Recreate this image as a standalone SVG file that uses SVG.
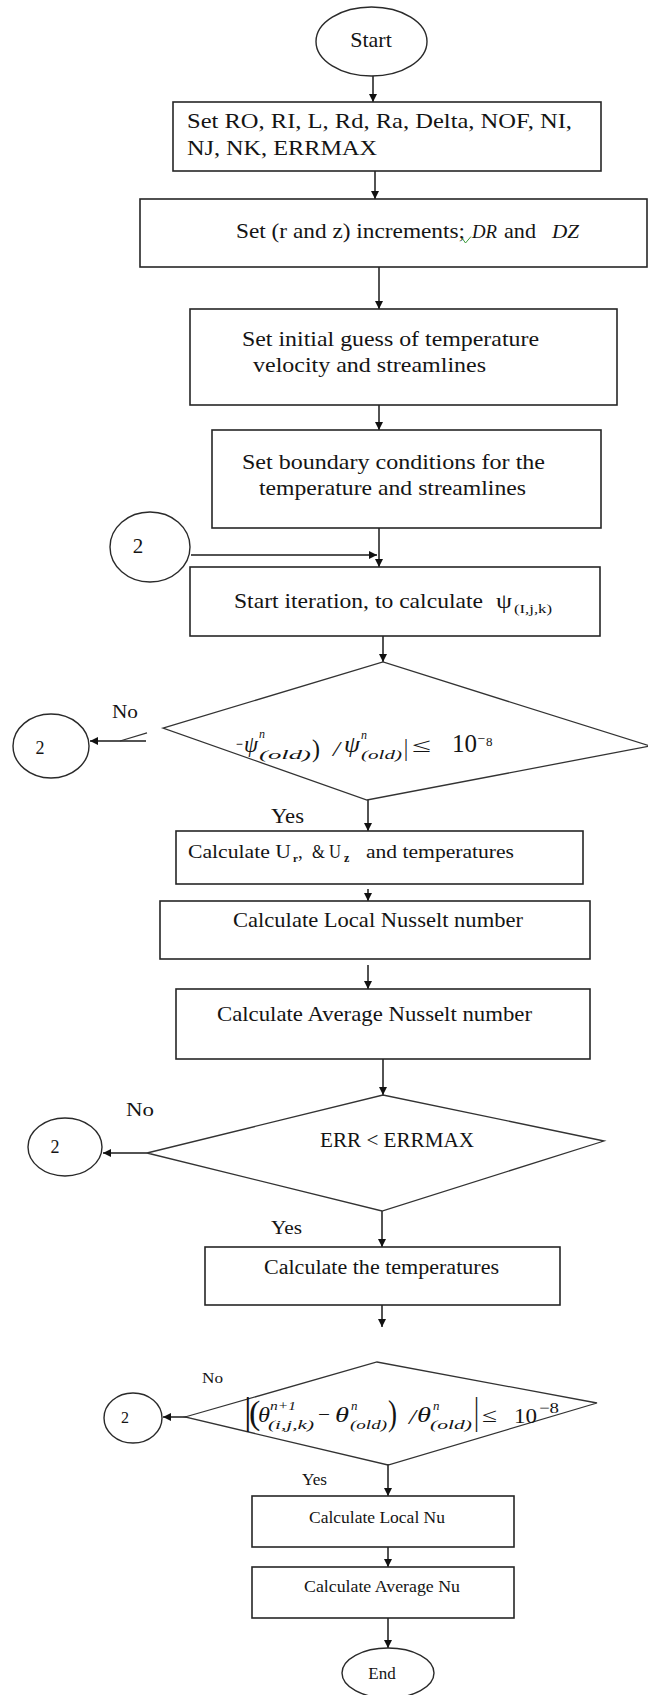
<svg xmlns="http://www.w3.org/2000/svg" width="648" height="1695" viewBox="0 0 648 1695">
<style>
  .box{fill:#fff;stroke:#262626;stroke-width:1.6}
  .term{fill:#fff;stroke:#2a2a2a;stroke-width:1.4}
  .dia{fill:none;stroke:#333;stroke-width:1.3}
  .wire{fill:none;stroke:#1a1a1a;stroke-width:1.5}
  .t{font-family:"Liberation Serif","Times New Roman",serif;fill:#141414}
  .i{font-family:"Liberation Serif","Times New Roman",serif;font-style:italic;fill:#141414}
</style>
<defs>
  <marker id="ah" viewBox="0 0 10 10" refX="10" refY="5" markerWidth="8" markerHeight="8" orient="auto" markerUnits="userSpaceOnUse">
    <path d="M0,0 L10,5 L0,10 z" fill="#111"/>
  </marker>
</defs>
<rect width="648" height="1695" fill="#fff"/>

<!-- connectors -->
<g id="connectors" class="wire" marker-end="url(#ah)">
  <line x1="373" y1="76" x2="373" y2="102"/>
  <line x1="375" y1="171" x2="375" y2="199"/>
  <line x1="379" y1="267" x2="379" y2="309"/>
  <line x1="379" y1="405" x2="379" y2="430"/>
  <line x1="379" y1="528" x2="379" y2="567"/>
  <line x1="191" y1="555" x2="377" y2="555"/>
  <line x1="383" y1="636" x2="383" y2="662"/>
  <line x1="146" y1="741" x2="90" y2="741"/>
  <line x1="368" y1="800" x2="368" y2="831"/>
  <line x1="368" y1="889" x2="368" y2="901"/>
  <line x1="368" y1="965" x2="368" y2="989"/>
  <line x1="383" y1="1059" x2="383" y2="1095"/>
  <line x1="147" y1="1153" x2="103" y2="1153"/>
  <line x1="382" y1="1211" x2="382" y2="1247"/>
  <line x1="382" y1="1305" x2="382" y2="1327"/>
  <line x1="187" y1="1417" x2="163" y2="1417"/>
  <line x1="388" y1="1464" x2="388" y2="1496"/>
  <line x1="388" y1="1547" x2="388" y2="1567"/>
  <line x1="388" y1="1618" x2="388" y2="1648"/>
</g>

<!-- terminals -->
<g id="start">
  <ellipse class="term" cx="371.5" cy="41.5" rx="55.5" ry="34.5"/>
  <text class="t" x="371" y="47" font-size="22" text-anchor="middle">Start</text>
</g>

<g id="set-parameters">
  <rect class="box" x="173" y="102" width="428" height="69"/>
  <text class="t" x="187" y="128" font-size="22" textLength="385" lengthAdjust="spacingAndGlyphs">Set RO, RI, L, Rd, Ra, Delta, NOF, NI,</text>
  <text class="t" x="187" y="155" font-size="22" textLength="190" lengthAdjust="spacingAndGlyphs">NJ, NK, ERRMAX</text>
</g>

<g id="set-increments">
  <rect class="box" x="140" y="199" width="507" height="68"/>
  <text class="t" x="236" y="238" font-size="21" textLength="229" lengthAdjust="spacingAndGlyphs">Set (r and z) increments;</text>
  <text class="i" x="472" y="238" font-size="19" textLength="25" lengthAdjust="spacingAndGlyphs">DR</text>
  <text class="t" x="504" y="238" font-size="21" textLength="32" lengthAdjust="spacingAndGlyphs">and</text>
  <text class="i" x="552" y="238" font-size="19" textLength="27" lengthAdjust="spacingAndGlyphs">DZ</text>
  <path d="M462,238 L465.5,243 L471,236.5" fill="none" stroke="#3a9a3a" stroke-width="1"/>
</g>

<g id="initial-guess">
  <rect class="box" x="190" y="309" width="427" height="96"/>
  <text class="t" x="242" y="346" font-size="21" textLength="297" lengthAdjust="spacingAndGlyphs">Set initial guess of temperature</text>
  <text class="t" x="253" y="372" font-size="21" textLength="233" lengthAdjust="spacingAndGlyphs">velocity and streamlines</text>
</g>

<g id="boundary-conditions">
  <rect class="box" x="212" y="430" width="389" height="98"/>
  <text class="t" x="242" y="469" font-size="21" textLength="303" lengthAdjust="spacingAndGlyphs">Set boundary conditions for the</text>
  <text class="t" x="259" y="495" font-size="21" textLength="267" lengthAdjust="spacingAndGlyphs">temperature and streamlines</text>
</g>

<g id="connector-2-entry">
  <ellipse class="term" cx="150" cy="547" rx="40" ry="35"/>
  <text class="t" x="138" y="553" font-size="21" text-anchor="middle">2</text>
</g>

<g id="start-iteration">
  <rect class="box" x="190" y="567" width="410" height="69"/>
  <text class="t" x="234" y="608" font-size="22" textLength="249" lengthAdjust="spacingAndGlyphs">Start iteration, to calculate</text>
  <text class="t" x="496" y="608" font-size="22" textLength="16" lengthAdjust="spacingAndGlyphs">ψ</text>
  <text class="t" x="514" y="613" font-size="12" textLength="38" lengthAdjust="spacingAndGlyphs">(I,j,k)</text>
</g>

<g id="check-psi">
  <path class="dia" d="M120,741 L147,732.9 M163,728.1 L383,662 L650,746 L367,800 Z"/>
  <text class="t" x="236" y="750" font-size="18" textLength="7" lengthAdjust="spacingAndGlyphs">−</text>
  <text class="i" x="244" y="752" font-size="23" textLength="14" lengthAdjust="spacingAndGlyphs">ψ</text>
  <text class="i" x="259" y="738" font-size="12">n</text>
  <text class="i" x="259" y="759" font-size="12" textLength="52" lengthAdjust="spacingAndGlyphs">(old)</text>
  <text class="t" x="312" y="757" font-size="26" textLength="8" lengthAdjust="spacingAndGlyphs">)</text>
  <text class="i" x="333" y="756" font-size="22" textLength="7" lengthAdjust="spacingAndGlyphs">/</text>
  <text class="i" x="344" y="752" font-size="23" textLength="16" lengthAdjust="spacingAndGlyphs">ψ</text>
  <text class="i" x="361" y="739" font-size="12">n</text>
  <text class="i" x="361" y="759" font-size="12" textLength="41" lengthAdjust="spacingAndGlyphs">(old)</text>
  <text class="t" x="404" y="756" font-size="25" textLength="4" lengthAdjust="spacingAndGlyphs">|</text>
  <text class="t" x="412" y="752" font-size="20" textLength="19" lengthAdjust="spacingAndGlyphs">≤</text>
  <text class="t" y="752" font-size="25"><tspan x="452">10</tspan><tspan x="477.5" dy="-9" font-size="14">−</tspan><tspan x="486" dy="3" font-size="13">8</tspan></text>
  <text class="t" x="112" y="718" font-size="19" textLength="26" lengthAdjust="spacingAndGlyphs">No</text>
  <text class="t" x="271" y="823" font-size="20" textLength="33" lengthAdjust="spacingAndGlyphs">Yes</text>
</g>

<g id="connector-2-psi">
  <ellipse class="term" cx="51" cy="746" rx="38" ry="32"/>
  <text class="t" x="40" y="754" font-size="18" text-anchor="middle">2</text>
</g>

<g id="velocities">
  <rect class="box" x="176" y="831" width="407" height="53"/>
  <text class="t" x="188" y="858" font-size="19" textLength="103" lengthAdjust="spacingAndGlyphs">Calculate U</text>
  <text class="t" x="293" y="862" font-size="11" font-weight="bold">r</text>
  <text class="t" x="298" y="858" font-size="19">,</text>
  <text class="t" x="312" y="858" font-size="19" textLength="29" lengthAdjust="spacingAndGlyphs">&amp; U</text>
  <text class="t" x="344" y="862" font-size="12" font-weight="bold">z</text>
  <text class="t" x="366" y="858" font-size="19" textLength="148" lengthAdjust="spacingAndGlyphs">and temperatures</text>
</g>

<g id="local-nusselt">
  <rect class="box" x="160" y="901" width="430" height="58"/>
  <text class="t" x="233" y="927" font-size="21" textLength="290" lengthAdjust="spacingAndGlyphs">Calculate Local Nusselt number</text>
</g>

<g id="average-nusselt">
  <rect class="box" x="176" y="989" width="414" height="70"/>
  <text class="t" x="217" y="1021" font-size="21" textLength="315" lengthAdjust="spacingAndGlyphs">Calculate Average Nusselt number</text>
</g>

<g id="check-err">
  <polygon class="dia" points="147,1153 383,1095 604,1141 382,1211"/>
  <text class="t" x="320" y="1147" font-size="20" textLength="154" lengthAdjust="spacingAndGlyphs">ERR &lt; ERRMAX</text>
  <text class="t" x="126" y="1116" font-size="19" textLength="28" lengthAdjust="spacingAndGlyphs">No</text>
  <text class="t" x="271" y="1234" font-size="19" textLength="31" lengthAdjust="spacingAndGlyphs">Yes</text>
</g>

<g id="connector-2-err">
  <ellipse class="term" cx="65" cy="1147" rx="37" ry="29"/>
  <text class="t" x="55" y="1153" font-size="18" text-anchor="middle">2</text>
</g>

<g id="temperatures">
  <rect class="box" x="205" y="1247" width="355" height="58"/>
  <text class="t" x="264" y="1274" font-size="20" textLength="235" lengthAdjust="spacingAndGlyphs">Calculate the temperatures</text>
</g>

<g id="check-theta">
  <polygon class="dia" points="185,1417 377,1362 597,1403 388,1465"/>
  <text class="t" y="1424" font-size="38"><tspan x="244">|</tspan><tspan x="249" font-size="34">(</tspan></text>
  <text class="i" x="258" y="1422" font-size="22" textLength="12" lengthAdjust="spacingAndGlyphs">θ</text>
  <text class="i" x="270" y="1410" font-size="13" textLength="26" lengthAdjust="spacingAndGlyphs">n+1</text>
  <text class="i" x="268" y="1429" font-size="13" textLength="46" lengthAdjust="spacingAndGlyphs">(i,j,k)</text>
  <text class="t" x="318" y="1421" font-size="20" textLength="12" lengthAdjust="spacingAndGlyphs">−</text>
  <text class="i" x="335" y="1422" font-size="22" textLength="14" lengthAdjust="spacingAndGlyphs">θ</text>
  <text class="i" x="351" y="1410" font-size="13">n</text>
  <text class="i" x="350" y="1429" font-size="13" textLength="37" lengthAdjust="spacingAndGlyphs">(old)</text>
  <text class="t" x="388" y="1425" font-size="36" textLength="9" lengthAdjust="spacingAndGlyphs">)</text>
  <text class="i" x="409" y="1424" font-size="22" textLength="7" lengthAdjust="spacingAndGlyphs">/</text>
  <text class="i" x="417" y="1422" font-size="22" textLength="14" lengthAdjust="spacingAndGlyphs">θ</text>
  <text class="i" x="433" y="1410" font-size="13">n</text>
  <text class="i" x="430" y="1429" font-size="13" textLength="42" lengthAdjust="spacingAndGlyphs">(old)</text>
  <text class="t" x="474" y="1424" font-size="38" textLength="5" lengthAdjust="spacingAndGlyphs">|</text>
  <text class="t" x="482" y="1422" font-size="20" textLength="15" lengthAdjust="spacingAndGlyphs">≤</text>
  <text class="t" x="514" y="1423" font-size="22" textLength="23" lengthAdjust="spacingAndGlyphs">10</text>
  <text class="t" x="539" y="1413" font-size="15" textLength="20" lengthAdjust="spacingAndGlyphs">−8</text>
  <text class="t" x="202" y="1383" font-size="15" textLength="21" lengthAdjust="spacingAndGlyphs">No</text>
  <text class="t" x="302" y="1485" font-size="16" textLength="25" lengthAdjust="spacingAndGlyphs">Yes</text>
</g>

<g id="connector-2-theta">
  <ellipse class="term" cx="133" cy="1418" rx="29" ry="25"/>
  <text class="t" x="125" y="1423" font-size="16" text-anchor="middle">2</text>
</g>

<g id="local-nu">
  <rect class="box" x="252" y="1496" width="262" height="51"/>
  <text class="t" x="309" y="1523" font-size="17" textLength="136" lengthAdjust="spacingAndGlyphs">Calculate Local Nu</text>
</g>

<g id="average-nu">
  <rect class="box" x="252" y="1567" width="262" height="51"/>
  <text class="t" x="304" y="1592" font-size="17" textLength="156" lengthAdjust="spacingAndGlyphs">Calculate Average Nu</text>
</g>

<g id="end">
  <ellipse class="term" cx="388" cy="1673" rx="46" ry="25"/>
  <text class="t" x="382" y="1679" font-size="17" text-anchor="middle">End</text>
</g>
</svg>
